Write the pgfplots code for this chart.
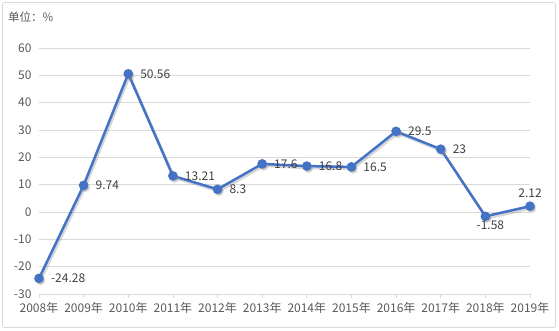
\documentclass[border=0pt]{standalone}
\usepackage{pgfplots}
\pgfplotsset{compat=1.18}
\usepackage{fontspec}
\setmainfont{Noto Sans CJK SC}
\definecolor{lineblue}{HTML}{4472C4}
\definecolor{gridgray}{HTML}{D9D9D9}
\definecolor{ticktext}{HTML}{595959}
\definecolor{labeltext}{HTML}{404040}
\begin{document}
\begin{tikzpicture}
\begin{axis}[
  at={(0,0)}, anchor=south west,
  scale only axis, width=491pt, height=246pt,
  xmin=0, xmax=11, ymin=-30, ymax=60,
  xtick={0,...,11},
  xticklabels={2008年,2009年,2010年,2011年,2012年,2013年,2014年,2015年,2016年,2017年,2018年,2019年},
  ytick={-30,-20,...,60},
  axis x line*=bottom, axis y line*=left,
  x axis line style={draw=gridgray, line width=0.75pt, -},
  y axis line style={draw=none},
  ymajorgrids, grid style={gridgray, line width=0.75pt},
  xtick style={gridgray, line width=0.75pt},
  xtick align=outside, major tick length=4pt,
  ytick style={draw=none},
  /pgf/number format/assume math mode=true,
  tick label style={font=\fontsize{12}{14}\selectfont, text=ticktext},
  yticklabel style={xshift=-4pt},
  xticklabel style={yshift=-1pt},
  clip=false,
]
\addplot[black!45, opacity=0.35, line width=2.5pt, mark=*, mark size=3.5pt, xshift=1.5pt, yshift=-2pt] coordinates {
(0,-24.28) (1,9.74) (2,50.56) (3,13.21) (4,8.3) (5,17.6) (6,16.8) (7,16.5) (8,29.5) (9,23) (10,-1.58) (11,2.12)};
\addplot[lineblue, line width=2.5pt, mark=*, mark size=3.5pt] coordinates {
(0,-24.28) (1,9.74) (2,50.56) (3,13.21) (4,8.3) (5,17.6) (6,16.8) (7,16.5) (8,29.5) (9,23) (10,-1.58) (11,2.12)};
% labels to the right
\addplot[draw=none, mark=none, point meta=explicit symbolic, nodes near coords,
  every node near coord/.style={anchor=west, xshift=8.5pt, font=\fontsize{12}{14}\selectfont, text=labeltext}]
  coordinates {(0,-24.28)[-24.28] (1,9.74)[9.74] (2,50.56)[50.56] (3,13.21)[13.21] (4,8.3)[8.3] (5,17.6)[17.6] (6,16.8)[16.8] (7,16.5)[16.5] (8,29.5)[29.5] (9,23)[23]};
\addplot[draw=none, mark=none, point meta=explicit symbolic, nodes near coords,
  every node near coord/.style={anchor=north, xshift=5pt, yshift=-1pt, font=\fontsize{12}{14}\selectfont, text=labeltext}]
  coordinates {(10,-1.58)[-1.58]};
\addplot[draw=none, mark=none, point meta=explicit symbolic, nodes near coords,
  every node near coord/.style={anchor=south, yshift=5.5pt, font=\fontsize{12}{14}\selectfont, text=labeltext}]
  coordinates {(11,2.12)[2.12]};
\end{axis}
\node[anchor=west, inner sep=0pt, text=ticktext, font=\fontsize{11.5}{13}\selectfont] at (-31pt,277pt) {单位：\%};
\draw[gridgray, line width=0.75pt, rounded corners=2pt] (-36.5pt,-33.5pt) rectangle (516.5pt,291.5pt);
\pgfresetboundingbox
\path (-39pt,-37pt) rectangle (520pt,294pt);
\end{tikzpicture}
\end{document}
